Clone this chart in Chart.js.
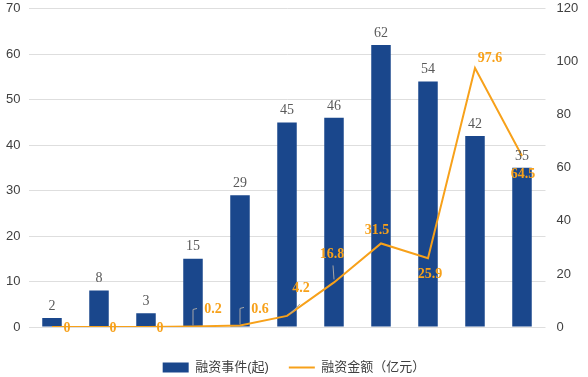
<!DOCTYPE html>
<html>
<head>
<meta charset="utf-8">
<script src="https://cdn.jsdelivr.net/npm/chart.js@4.4.0/dist/chart.umd.min.js"></script>
<style>
html, body { margin: 0; padding: 0; background: #fff; }
#wrap { width: 588px; height: 377px; }
</style>
</head>
<body>
<div id="wrap"><canvas id="myCanvas" width="588" height="377"></canvas></div>
<script>
// data
var years = ['2011', '2012', '2013', '2014', '2015', '2016', '2017', '2018', '2019', '2020', '2021'];
var eventCounts = [2, 8, 3, 15, 29, 45, 46, 62, 54, 42, 35];
var amounts = [0, 0, 0, 0.2, 0.6, 4.2, 16.8, 31.5, 25.9, 97.6, 64.5];
var seriesNames = ['融资事件(起)', '融资金额（亿元）'];

var BLUE = '#1a478c';
var ORANGE = '#f7a11a';

// where the amount labels sit relative to their point, and little leader lines
var amountLabelOffsets = [[15, 1], [14, 1], [14, 1], [20, -17], [20, -16], [14, -27], [-2, -28], [-4, -13], [2, 16], [15, -10], [1, 18]];
var leaders = {
    3: [[0, -1], [0, -17], [4, -18]],
    4: [[0, -1], [0, -17], [4, -18]],
    5: [[3, -2], [13, -12]],
    6: [[0, -3], [-1, -17]]
};

var valueLabels = {
    id: 'valueLabels',
    afterDatasetsDraw: function (chart) {
        var ctx = chart.ctx;
        ctx.save();
        ctx.textAlign = 'center';
        ctx.textBaseline = 'middle';

        // bar values
        ctx.font = '14px "Liberation Serif", "Times New Roman", serif';
        ctx.fillStyle = '#595959';
        chart.getDatasetMeta(0).data.forEach(function (bar, i) {
            ctx.fillText(String(eventCounts[i]), bar.x, bar.y - 12);
        });

        // amount values
        var pts = chart.getDatasetMeta(1).data;
        ctx.strokeStyle = '#a6a6a6';
        ctx.lineWidth = 1;
        Object.keys(leaders).forEach(function (k) {
            var p = pts[k];
            var seg = leaders[k];
            ctx.beginPath();
            ctx.moveTo(p.x + seg[0][0], p.y + seg[0][1]);
            for (var j = 1; j < seg.length; j++) {
                ctx.lineTo(p.x + seg[j][0], p.y + seg[j][1]);
            }
            ctx.stroke();
        });
        ctx.font = 'bold 14px "Liberation Serif", "Times New Roman", serif';
        ctx.fillStyle = ORANGE;
        pts.forEach(function (p, i) {
            var off = amountLabelOffsets[i];
            ctx.fillText(String(amounts[i]), p.x + off[0], p.y + off[1]);
        });
        ctx.restore();
    }
};

// keep the tick label overhang from pushing the plot down
function fixY(width) {
    return function (scale) {
        scale.width = width;
        scale.paddingTop = 0;
        scale.paddingBottom = 0;
    };
}

Chart.defaults.font.family = '"Liberation Sans", Arial, "Noto Sans CJK SC", sans-serif';
Chart.defaults.color = '#404040';

var ctx = document.getElementById('myCanvas').getContext('2d');
var myChart = new Chart(ctx, {
    type: 'bar',
    data: {
        labels: years,
        datasets: [{
            label: seriesNames[0],
            data: eventCounts,
            backgroundColor: BLUE,
            borderWidth: 0,
            barPercentage: 0.83,
            categoryPercentage: 0.5,
            yAxisID: 'y',
            order: 2
        }, {
            type: 'line',
            label: seriesNames[1],
            data: amounts,
            borderColor: ORANGE,
            backgroundColor: ORANGE,
            borderWidth: 2,
            pointRadius: 0,
            tension: 0,
            yAxisID: 'y1',
            order: 1
        }]
    },
    options: {
        responsive: false,
        devicePixelRatio: 1,
        animation: false,
        layout: { padding: { top: 8.7, bottom: -7, left: 0, right: 0 } },
        plugins: {
            tooltip: { enabled: false },
            legend: {
                position: 'bottom',
                labels: {
                    usePointStyle: true,
                    pointStyleWidth: 26,
                    boxHeight: 10,
                    padding: 20,
                    color: '#404040',
                    font: { size: 13, family: '"Liberation Sans", "Noto Sans CJK SC", sans-serif' },
                    generateLabels: function (chart) {
                        var items = Chart.defaults.plugins.legend.labels.generateLabels(chart);
                        items.sort(function (a, b) { return a.datasetIndex - b.datasetIndex; });
                        items[0].pointStyle = 'rect';
                        items[0].lineWidth = 0;
                        items[1].pointStyle = 'line';
                        items[1].strokeStyle = ORANGE;
                        items[1].lineWidth = 2;
                        return items;
                    }
                }
            }
        },
        scales: {
            x: {
                grid: { display: false },
                border: { display: false },
                ticks: { font: { size: 13 }, padding: 8, maxRotation: 0 },
                afterFit: function (scale) { scale.height = 14; }
            },
            y: {
                position: 'left',
                min: 0,
                max: 70,
                ticks: { stepSize: 10, font: { size: 13 }, padding: 8 },
                grid: { color: '#dedede', drawTicks: false },
                border: { display: false },
                afterFit: fixY(28.5)
            },
            y1: {
                position: 'right',
                min: 0,
                max: 120,
                ticks: { stepSize: 20, font: { size: 13 }, padding: 11 },
                grid: { display: false, drawTicks: false },
                border: { display: false },
                afterFit: fixY(42.5)
            }
        }
    },
    plugins: [valueLabels]
});
</script>
</body>
</html>
